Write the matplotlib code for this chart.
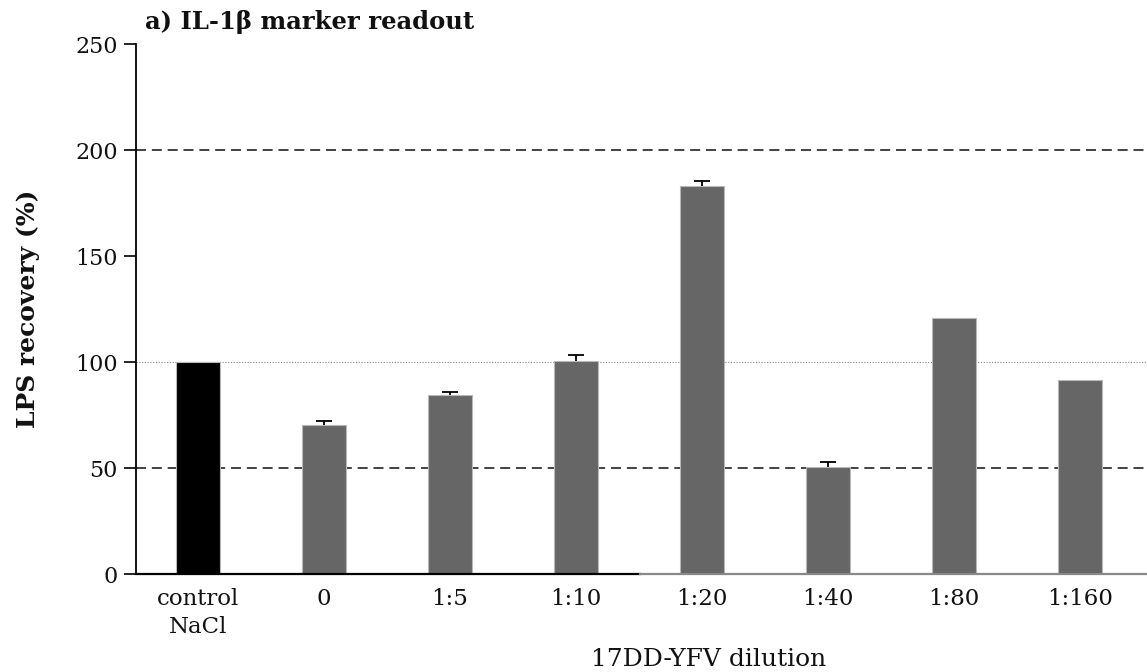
import matplotlib
matplotlib.use("Agg")
import matplotlib.pyplot as plt
import numpy as np

# Data
categories = ["control\nNaCl", "0", "1:5", "1:10", "1:20", "1:40", "1:80", "1:160"]
recovery = [100.0, 70.5, 84.5, 100.5, 183.0, 50.6, 120.8, 91.7]
errors = [0.0, 1.5, 1.4, 2.6, 2.2, 2.4, 0.0, 0.0]
bar_colors = ["#000000"] + ["#666666"] * 7
y_ticks = [0, 50, 100, 150, 200, 250]

plt.rcParams["font.family"] = ["DejaVu Serif"]
text_color = "#111111"

fig = plt.figure(figsize=(11.47, 6.72), dpi=100)
ax = fig.add_axes([0.1186, 0.1458, 0.8814, 0.7887])

x = np.arange(len(categories))
ax.bar(x, recovery, width=0.35, color=bar_colors, edgecolor="#b8b8b8",
       linewidth=0.8, zorder=3)

# upper-only error bars
err_idx = [i for i, e in enumerate(errors) if e > 0]
_, caps, _ = ax.errorbar(x[err_idx], [recovery[i] for i in err_idx],
                         yerr=[[0] * len(err_idx), [errors[i] for i in err_idx]],
                         fmt="none", ecolor="black", elinewidth=1.3, capsize=6,
                         capthick=1.3, zorder=4)
caps[0].set_visible(False)

# reference lines
ax.axhline(200, color="#222222", linestyle=(0, (6, 3.5)), linewidth=1.2, zorder=2)
ax.axhline(50, color="#222222", linestyle=(0, (6, 3.5)), linewidth=1.2, zorder=2)
ax.axhline(100, color="#888888", linestyle=(0, (1, 1.5)), linewidth=0.8, zorder=2)

ax.set_xlim(-0.49, 7.53)
ax.set_ylim(0, 250)
ax.set_yticks(y_ticks)
ax.set_xticks(x)
ax.set_xticklabels(categories, fontsize=16.5, color=text_color, linespacing=1.35)
ax.tick_params(axis="x", length=0, pad=10)
ax.tick_params(axis="y", direction="out", length=9, width=1.2, labelsize=16,
               labelcolor=text_color, pad=4)

for side in ["top", "right", "bottom"]:
    ax.spines[side].set_visible(False)
ax.spines["left"].set_linewidth(1.3)
ax.spines["left"].set_bounds(0, 250)

# bottom axis line: dark on the left part, grey beyond
split = (640 - 136) / 1011
ax.axhline(0, xmin=0, xmax=split, color="black", linewidth=1.6, zorder=5, clip_on=False)
ax.axhline(0, xmin=split, xmax=1, color="#888888", linewidth=1.6, zorder=5, clip_on=False)

ax.set_ylabel("LPS recovery (%)", fontsize=18, fontweight="bold", color=text_color)
ax.yaxis.set_label_coords(-96 / 1011, 0.5)
ax.set_xlabel("17DD-YFV dilution", fontsize=18, color=text_color)
ax.xaxis.set_label_coords(0.566, -0.14)

fig.text(145 / 1147, 1 - 22 / 672, "a) IL-1\u03b2 marker readout", fontsize=17.5,
         fontweight="bold", color=text_color, ha="left", va="center")

fig.savefig("out.png", dpi=100)
